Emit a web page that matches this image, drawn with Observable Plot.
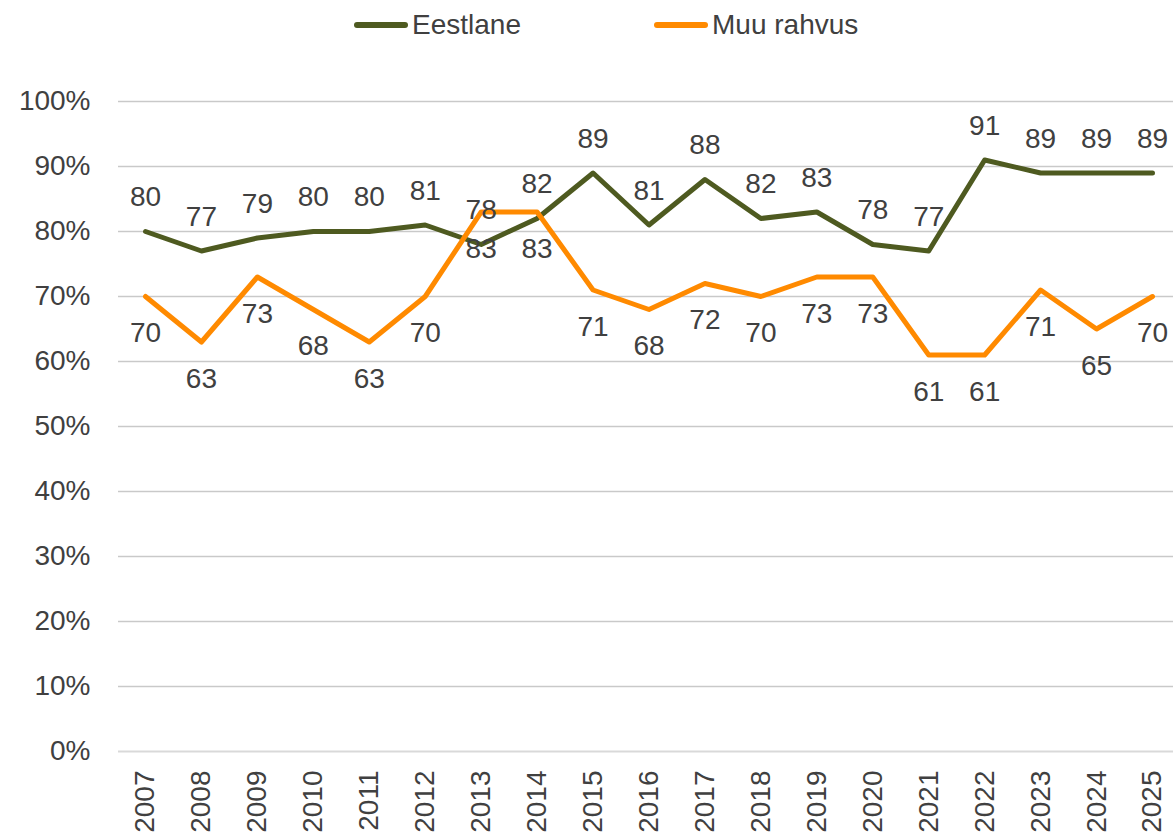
<!DOCTYPE html>
<html><head><meta charset="utf-8">
<script src="https://cdn.jsdelivr.net/npm/d3@7"></script>
<script src="https://cdn.jsdelivr.net/npm/@observablehq/plot@0.6"></script>
<style>
body{margin:0;background:#fff;font-family:"Liberation Sans",Arial,sans-serif;}
#legend{position:relative;height:50px;width:1173px;}
.item{position:absolute;top:0;height:50px;display:flex;align-items:center;font-size:28px;color:#404040;white-space:nowrap;}
.sw{width:54px;height:6px;border-radius:3px;margin-right:4px;}
</style></head><body>
<div id="legend"></div>
<div id="chart"></div>
<script>
const years = ["2007","2008","2009","2010","2011","2012","2013","2014","2015","2016","2017","2018","2019","2020","2021","2022","2023","2024","2025"];
const eestlane = [80,77,79,80,80,81,78,82,89,81,88,82,83,78,77,91,89,89,89];
const muuRahvus = [70,63,73,68,63,70,83,83,71,68,72,70,73,73,61,61,71,65,70];
const seriesNames = ["Eestlane","Muu rahvus"];
const seriesColors = ["#4e5a20","#ff8a00"];
const yTicks = [0,10,20,30,40,50,60,70,80,90,100];
const legendLeft = [354, 654];

// legend
const leg = document.getElementById("legend");
seriesNames.forEach((n,i)=>{
  const it = document.createElement("div");
  it.className="item"; it.style.left = legendLeft[i]+"px";
  const sw = document.createElement("div"); sw.className="sw"; sw.style.background = seriesColors[i];
  const tx = document.createElement("span"); tx.textContent = n;
  it.appendChild(sw); it.appendChild(tx); leg.appendChild(it);
});

const rowsE = years.map((y,i)=>({year:y, value:eestlane[i], series:seriesNames[0]}));
const rowsM = years.map((y,i)=>({year:y, value:muuRahvus[i], series:seriesNames[1]}));
const rows = rowsE.concat(rowsM);

const chart = Plot.plot({
  width:1173, height:785,
  marginTop:51, marginBottom:84, marginLeft:118, marginRight:0,
  style:{fontFamily:'"Liberation Sans",Arial,sans-serif', fontSize:"28px", color:"#404040", background:"#fff"},
  x:{type:"point", domain:years, range:[145,1152], padding:0, round:false, label:null},
  y:{domain:[0,100], label:null},
  color:{domain:seriesNames, range:seriesColors},
  marks:[
    Plot.ruleY(yTicks.filter(d=>d>0), {stroke:"#c9c9c9", strokeWidth:1.5}),
    Plot.ruleY([0], {stroke:"#d9d9d9", strokeWidth:2}),
    Plot.axisY({ticks:yTicks, tickSize:0, tickPadding:28, tickFormat:d=>d+"%", fontSize:28, fill:"#404040"}),
    Plot.axisX({tickSize:0, tickPadding:19, tickRotate:-90, fontSize:28, fill:"#404040"}),
    Plot.line(rows, {x:"year", y:"value", z:"series", stroke:"series", strokeWidth:5, strokeLinejoin:"round", strokeLinecap:"round"}),
    Plot.text(rowsE, {x:"year", y:"value", text:d=>String(d.value), dy:-34, fontSize:28, fill:"#404040"}),
    Plot.text(rowsM, {x:"year", y:"value", text:d=>String(d.value), dy:37, fontSize:28, fill:"#404040"})
  ]
});
document.getElementById("chart").appendChild(chart);
</script>
</body></html>
